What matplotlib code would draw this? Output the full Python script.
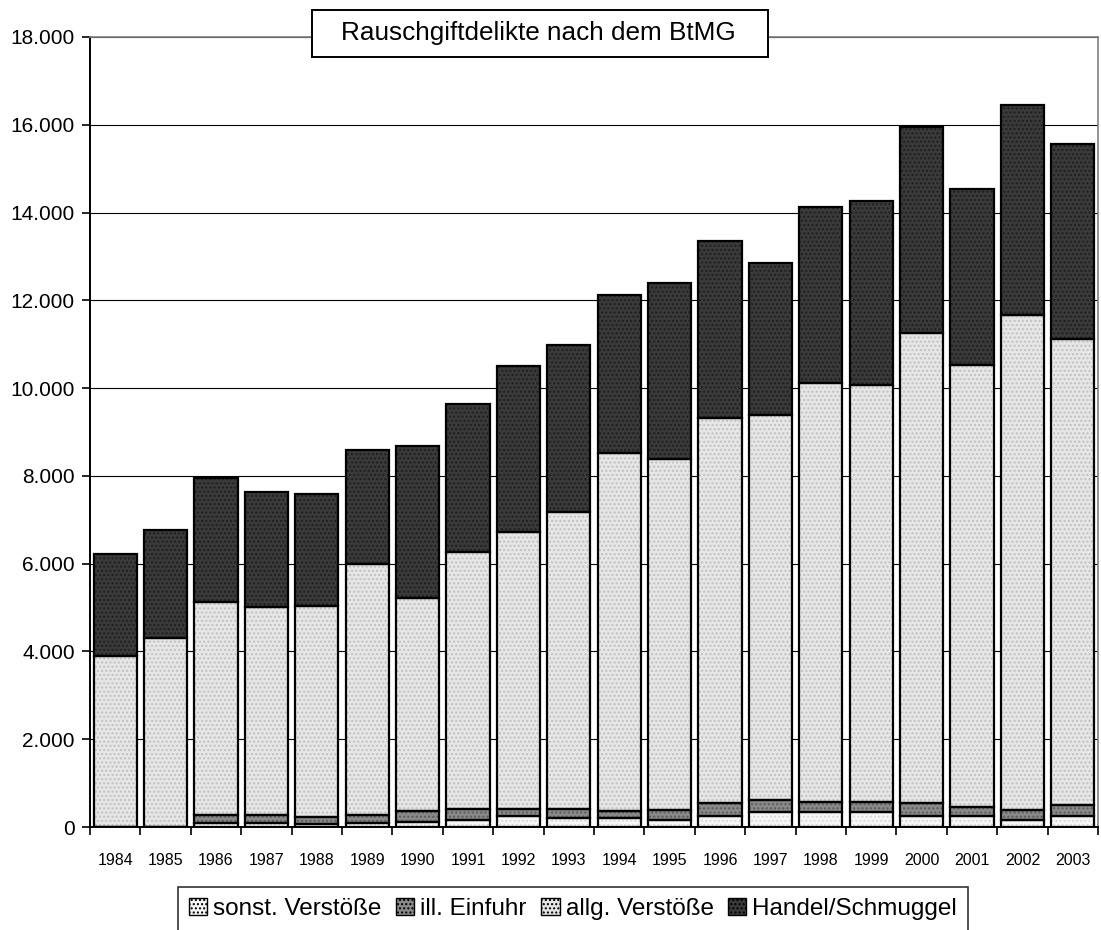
import matplotlib.pyplot as plt
import matplotlib.ticker as mticker
import numpy as np

#%% DATA
years = ["1984", "1985", "1986", "1987", "1988", "1989", "1990", "1991", "1992", "1993",
         "1994", "1995", "1996", "1997", "1998", "1999", "2000", "2001", "2002", "2003"]

sonst = [0, 0, 100, 80, 60, 100, 120, 160, 260, 210,
         205, 165, 260, 350, 350, 350, 260, 260, 165, 260]
einfuhr = [0, 0, 170, 190, 160, 170, 240, 240, 140, 190,
           150, 230, 280, 270, 230, 230, 280, 190, 230, 240]
allg = [3900, 4300, 4860, 4750, 4810, 5720, 4850, 5860, 6320, 6770,
        8170, 8000, 8770, 8770, 9540, 9490, 10720, 10080, 11260, 10610]
handel = [2330, 2470, 2820, 2620, 2560, 2600, 3470, 3380, 3780, 3820,
          3600, 4010, 4040, 3460, 4010, 4200, 4700, 4010, 4800, 4450]

labels = ["sonst. Verstöße", "ill. Einfuhr", "allg. Verstöße", "Handel/Schmuggel"]

#%% PLOT
plt.rcParams['font.family'] = ['Liberation Sans', 'DejaVu Sans']

W, H = 1101, 930
fig = plt.figure(figsize=(W/100, H/100), dpi=100)
ax = fig.add_axes([90/W, 1 - 827/H, 1008/W, 790/H])

x = np.arange(len(years))
w = 0.86

series = [sonst, einfuhr, allg, handel]
fills = ["#f6f6f6", "#8a8a8a", "#e6e6e6", "#3a3a3a"]
hatchc = ["#d8d8d8", "#5a5a5a", "#c0c0c0", "#1e1e1e"]

bottom = np.zeros(len(years))
handles = []
for vals, fc, hc, lab in zip(series, fills, hatchc, labels):
    vals = np.array(vals, dtype=float)
    ax.bar(x, vals, w, bottom=bottom, color=fc, edgecolor=hc, hatch="....",
           linewidth=0, zorder=2)
    ax.bar(x, vals, w, bottom=bottom, facecolor="none", edgecolor="black",
           linewidth=1.6, zorder=3)
    handles.append(plt.Rectangle((0, 0), 1, 1, facecolor=fc, edgecolor="black",
                                 hatch="....", linewidth=1.0))
    bottom += vals

ax.set_xlim(-0.5, len(years) - 0.5)
ax.set_ylim(0, 18000)
ax.set_yticks(np.arange(0, 18001, 2000))
ax.yaxis.set_major_formatter(mticker.FuncFormatter(
    lambda v, p: "{:,.0f}".format(v).replace(",", ".")))
ax.grid(axis="y", color="black", linewidth=0.8, zorder=1)

ax.set_xticks(x)
ax.set_xticklabels(years, fontsize=11.5)
ax.set_xticks(np.arange(-0.5, len(years)), minor=True)
ax.tick_params(axis="x", which="major", length=0, pad=19)
ax.tick_params(axis="x", which="minor", length=6, width=1.2, direction="out")
ax.tick_params(axis="y", length=6, width=1.2, labelsize=15, pad=5)

for s in ["left", "bottom"]:
    ax.spines[s].set_color("black")
    ax.spines[s].set_linewidth(1.4)
for s in ["top", "right"]:
    ax.spines[s].set_color("#808080")
    ax.spines[s].set_linewidth(1.2)

# title box
fig.patches.append(plt.Rectangle((312/W, 1 - 57/H), 456/W, 47/H, transform=fig.transFigure,
                                 facecolor="white", edgecolor="black", linewidth=1.4,
                                 zorder=5))
fig.text(538/W, 1 - 33/H, "Rauschgiftdelikte nach dem BtMG", ha="center", va="center",
         fontsize=18.8, zorder=6)

leg = fig.legend(handles, labels, loc="lower center", bbox_to_anchor=(573/W, -0.014),
                 ncol=4, fontsize=17.5, frameon=True, fancybox=False,
                 handlelength=0.75, handleheight=0.75, handletextpad=0.25,
                 columnspacing=0.6, borderpad=0.45)
leg.get_frame().set_edgecolor("black")
leg.get_frame().set_linewidth(1.2)

plt.savefig("out.png", dpi=100)
